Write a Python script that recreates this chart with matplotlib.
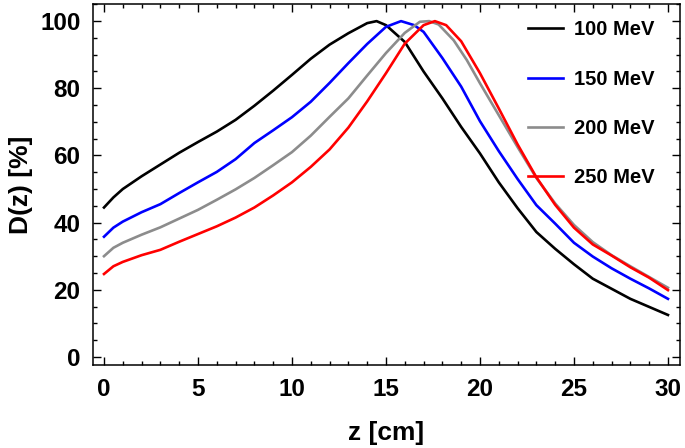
import numpy as np
import matplotlib
matplotlib.use("Agg")
import matplotlib.pyplot as plt
from matplotlib.ticker import MultipleLocator

# depth-dose curves
labels = ["100 MeV", "150 MeV", "200 MeV", "250 MeV"]
colors = ["black", "#0000ff", "#8c8c8c", "#ff0000"]

z_100 = [0, 0.5, 1, 2, 3, 4, 5, 6, 7, 8, 9, 10, 11, 12, 13, 14, 14.5, 15, 16, 17,
         18, 19, 20, 21, 22, 23, 24, 25, 26, 27, 28, 29, 30]
d_100 = [44.5, 47.5, 50, 53.8, 57.3, 60.8, 64, 67.1, 70.6, 74.8, 79.3, 84, 88.8, 93, 96.4,
         99.4, 100, 98.8, 93.8, 85, 77, 68.5, 60.6, 52, 44.3, 37.2, 32.2, 27.6, 23.3, 20.3,
         17.3, 14.9, 12.5]

z_150 = [0, 0.5, 1, 2, 3, 4, 5, 6, 7, 8, 9, 10, 11, 12, 13, 14, 15, 15.8, 16.5, 17,
         18, 19, 20, 21, 22, 23, 24, 25, 26, 27, 28, 29, 30]
d_150 = [35.8, 38.5, 40.3, 43.1, 45.5, 48.8, 52, 55.1, 58.9, 63.7, 67.5, 71.4, 76, 81.6, 87.5,
         93.2, 98.3, 100, 98.8, 96.8, 89, 80.5, 70.2, 61.3, 53, 45.2, 39.7, 34, 29.9, 26.4,
         23.3, 20.4, 17.3]

z_200 = [0, 0.5, 1, 2, 3, 4, 5, 6, 7, 8, 9, 10, 11, 12, 13, 14, 15, 16, 16.8, 17.3,
         17.8, 18.6, 19.3, 20, 21, 22, 23, 24, 25, 26, 27, 28, 29, 30]
d_200 = [30, 32.5, 34, 36.4, 38.6, 41.2, 43.8, 46.8, 49.9, 53.3, 57.1, 61, 65.9, 71.5, 77,
         83.8, 90.5, 96.5, 99.8, 100, 99, 94.3, 88.4, 81.5, 72, 62.5, 53.3, 45.7, 39.3, 34.2,
         30.3, 27, 23.8, 20.6]

z_250 = [0, 0.5, 1, 2, 3, 4, 5, 6, 7, 8, 9, 10, 11, 12, 13, 14, 15, 16, 17, 17.6,
         18.2, 19, 20, 21, 22, 23, 24, 25, 26, 27, 28, 29, 30]
d_250 = [24.7, 27, 28.3, 30.3, 31.9, 34.3, 36.6, 38.9, 41.5, 44.5, 48.1, 52, 56.6, 61.8, 68.3,
         76.1, 84.5, 93.3, 98.8, 100, 98.8, 94, 84.5, 74, 63.3, 53.5, 45.3, 38.5, 33.5, 30.2,
         26.7, 23.6, 19.9]

series = [(z_100, d_100), (z_150, d_150), (z_200, d_200), (z_250, d_250)]

plt.rcParams["font.family"] = ["Liberation Sans", "DejaVu Sans"]
plt.rcParams["font.weight"] = "bold"

fig = plt.figure(figsize=(6.85, 4.48), dpi=100)
ax = fig.add_axes([93 / 685, 1 - 365 / 448, 587 / 685, 361 / 448])

for (z, d), c, lab in zip(series, colors, labels):
    ax.plot(z, d, color=c, lw=1.9, label=lab)

ax.set_xlim(-0.585, 30.64)
ax.set_ylim(-2.4, 105.1)
ax.xaxis.set_major_locator(MultipleLocator(5))
ax.xaxis.set_minor_locator(MultipleLocator(1))
ax.yaxis.set_major_locator(MultipleLocator(20))
ax.yaxis.set_minor_locator(MultipleLocator(5))
ax.tick_params(which="both", direction="in", top=True, right=True, width=1.0)
ax.tick_params(which="major", length=5.5, labelsize=17.5, pad=9)
ax.tick_params(which="minor", length=3)
for sp in ax.spines.values():
    sp.set_linewidth(1.1)

ax.set_xlabel("z [cm]", fontsize=19, fontweight="bold", labelpad=15)
ax.set_ylabel("D(z) [%]", fontsize=19, fontweight="bold", labelpad=5)

ax.legend(loc="upper left", bbox_to_anchor=(528 / 685, 1 - 20.5 / 448),
          bbox_transform=fig.transFigure, frameon=False,
          handlelength=1.75, handletextpad=0.55, labelspacing=1.5,
          borderpad=0, borderaxespad=0, prop={"weight": "bold", "size": 14.5})

fig.savefig("out.png", dpi=100)
